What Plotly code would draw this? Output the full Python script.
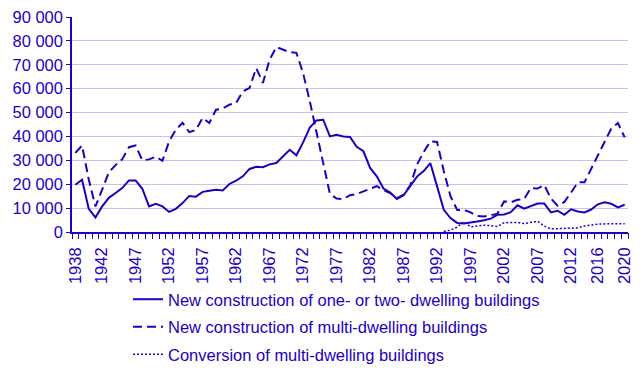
import plotly.graph_objects as go

years = list(range(1938, 2021))

one_two_dwelling = [
    19.8, 21.9, 9.7, 6.1, 10.7, 14.3, 16.3, 18.4, 21.6, 21.6,
    18.1, 10.7, 11.8, 10.7, 8.4, 9.7, 12.1, 15.1, 14.8, 16.8,
    17.3, 17.7, 17.4, 20.1, 21.5, 23.3, 26.4, 27.3, 27.1, 28.3,
    28.9, 31.8, 34.4, 32.1, 37.5, 43.7, 46.7, 47.0, 40.0, 40.7,
    40.0, 39.8, 35.7, 33.8, 26.8, 23.3, 18.2, 16.5, 13.8, 15.4,
    19.5, 23.2, 25.5, 28.8, 19.1, 9.3, 5.8, 3.8, 3.6, 3.9,
    4.4, 4.9, 5.6, 7.2, 7.3, 8.3, 11.2, 9.8, 11.0, 11.9,
    11.9, 8.2, 8.9, 7.2, 9.5, 8.6, 8.2, 9.4, 11.6, 12.4,
    11.8, 10.3, 11.4,
]

multi_dwelling = [
    33.1, 36.2, 22.0, 10.7, 17.7, 25.0, 28.0, 30.5, 35.5, 36.2,
    30.0, 30.4, 31.5, 29.8, 38.0, 42.8, 45.7, 41.8, 42.7, 47.8,
    45.6, 51.2, 51.7, 53.3, 54.0, 58.9, 60.3, 68.6, 62.4, 72.1,
    77.4, 76.3, 75.3, 75.0, 66.5, 54.7, 41.4, 29.0, 16.0, 14.0,
    13.8, 15.4, 15.9, 17.0, 18.2, 19.2, 17.5, 16.3, 14.2, 15.6,
    19.5, 28.2, 33.5, 37.9, 37.7, 25.5, 15.0, 9.2, 9.3, 8.2,
    6.7, 6.5, 7.0, 7.6, 12.8, 12.4, 13.5, 13.8, 18.4, 18.2,
    19.6, 14.0, 11.0, 12.6, 16.5, 20.8, 20.8, 26.6, 32.2, 37.7,
    43.3, 45.6, 39.6,
]

conversion = [None] * 55 + [
    0.2, 0.8, 2.0, 4.3, 2.2, 2.6, 2.8, 2.7, 2.3, 3.9,
    3.8, 4.0, 3.5, 4.0, 4.5, 2.5, 1.3, 1.4, 1.4, 1.5,
    1.7, 2.5, 3.0, 3.3, 3.4, 3.5, 3.4, 3.5,
]

series_names = [
    "New construction of one- or two- dwelling buildings",
    "New construction of multi-dwelling buildings",
    "Conversion of multi-dwelling buildings",
]

x_tick_years = [1938, 1942, 1947, 1952, 1957, 1962, 1967, 1972, 1977,
                1982, 1987, 1992, 1997, 2002, 2007, 2012, 2016, 2020]
y_tick_values = [0, 10000, 20000, 30000, 40000, 50000, 60000, 70000, 80000, 90000]
y_tick_labels = ["0", "10 000", "20 000", "30 000", "40 000", "50 000",
                 "60 000", "70 000", "80 000", "90 000"]

BLUE = "#1e00be"
GRID = "#c8c3ee"
FONT = "Liberation Sans, Arial, sans-serif"

def scale(vals):
    return [None if v is None else v * 1000 for v in vals]

# year-boundary tick positions (category edges)
boundaries = [y - 0.5 for y in years] + [years[-1] + 0.5]

fig = go.Figure()
fig.add_trace(go.Scatter(x=years, y=scale(one_two_dwelling), name=series_names[0],
                         mode="lines", line=dict(color=BLUE, width=2, dash="solid"),
                         legendgroup="a"))
fig.add_trace(go.Scatter(x=years, y=scale(multi_dwelling), name=series_names[1],
                         mode="lines", line=dict(color=BLUE, width=2, dash="9px,5px"),
                         legendgroup="b"))
fig.add_trace(go.Scatter(x=years, y=scale(conversion), name=series_names[2],
                         mode="lines", line=dict(color=BLUE, width=1.5, dash="2px,2px"),
                         legendgroup="c"))
# helper trace carrying the per-year tick axis
fig.add_trace(go.Scatter(x=years, y=scale(one_two_dwelling), xaxis="x2",
                         mode="lines", line=dict(width=0), opacity=0,
                         showlegend=False, hoverinfo="skip"))

fig.update_layout(
    width=643, height=373,
    margin=dict(l=64, r=23, t=9, b=149, autoexpand=False),
    paper_bgcolor="white", plot_bgcolor="white",
    font=dict(family=FONT, size=16.5, color=BLUE),
    showlegend=True,
    legend=dict(x=0.1007, y=-0.2326, xanchor="left", yanchor="top",
                font=dict(size=16.5, color=BLUE), tracegroupgap=3,
                bgcolor="rgba(0,0,0,0)"),
    xaxis=dict(
        range=[1937.5, 2020.5],
        tickmode="array", tickvals=x_tick_years, ticktext=[str(y) for y in x_tick_years],
        tickangle=-90, ticks="outside", ticklen=7, tickcolor="rgba(0,0,0,0)",
        showgrid=False, zeroline=False,
        showline=True, linecolor=BLUE, linewidth=1.5,
        tickfont=dict(size=16.5, color=BLUE),
        ticklabeloverflow="allow",
    ),
    xaxis2=dict(
        range=[1937.5, 2020.5], overlaying="x", side="bottom", anchor="y",
        tickmode="array", tickvals=boundaries, ticktext=[""] * len(boundaries),
        ticks="outside", ticklen=6, tickcolor=BLUE, tickwidth=1.3,
        showgrid=False, zeroline=False, showline=False, showticklabels=False,
    ),
    yaxis=dict(
        range=[0, 90000],
        tickmode="array", tickvals=y_tick_values, ticktext=y_tick_labels,
        ticks="outside", ticklen=4, tickcolor=BLUE, tickwidth=1.3,
        showgrid=True, gridcolor=GRID, gridwidth=1.2,
        zeroline=False,
        showline=True, linecolor=BLUE, linewidth=1.5,
        tickfont=dict(size=16.5, color=BLUE),
        ticklabeloverflow="allow",
    ),
)

fig.write_html("out.html")
